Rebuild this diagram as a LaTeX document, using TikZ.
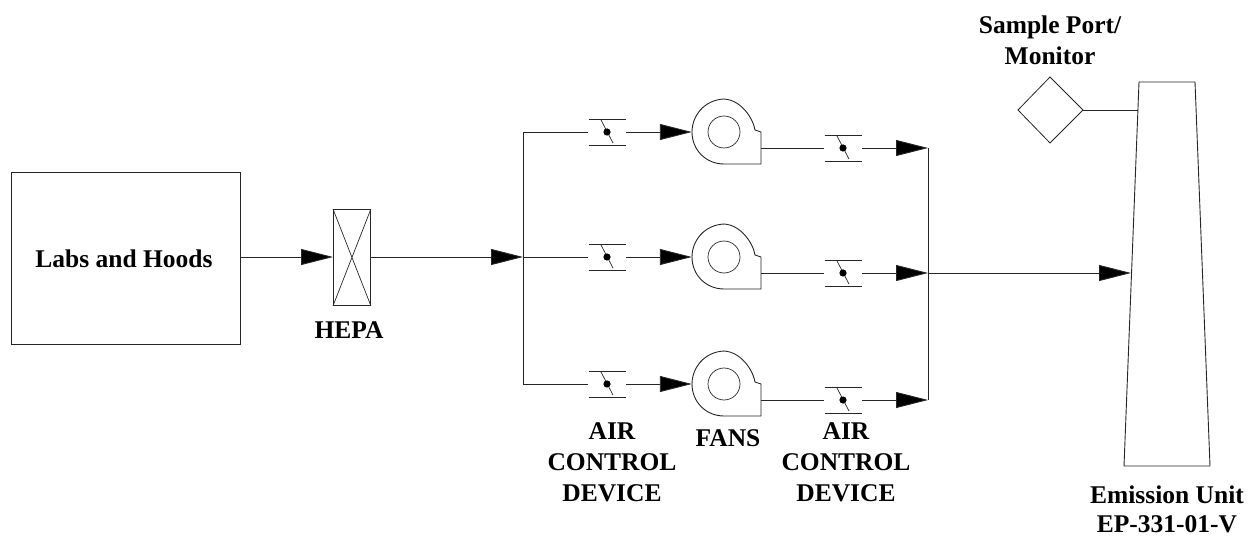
\documentclass[tikz,border=0pt]{standalone}
\usepackage{fontspec}
\setmainfont{Liberation Serif}
\usetikzlibrary{arrows.meta}
\tikzset{
  x=1pt,y=-1pt,
  line/.style={draw=black!85,line width=.9pt},
  flow/.style={line,-{Triangle[length=32pt,width=16pt,fill=black]}},
  lbl/.style={font=\bfseries\fontsize{25.5}{31}\selectfont,align=center,text=black,inner sep=0pt},
  pt/.style={inner sep=0pt,minimum size=0pt},
}
\newcommand{\damper}[3]{% x y name
  \node[pt] (#3w) at (#1-19,#2) {};
  \node[pt] (#3e) at (#1+19,#2) {};
  \draw[line] (#1-18.5,#2-13) -- (#1+18.5,#2-13);
  \draw[line] (#1-18.5,#2+13) -- (#1+18.5,#2+13);
  \draw[line,line width=.7pt] (#1-6,#2-12) -- (#1+6,#2+11);
  \fill[black] (#1,#2) circle (3.6);
}
\newcommand{\fan}[3]{% cx cy name
  \draw[line] (#1+31,#2-2) .. controls (#1+29,#2-14) and (#1+17,#2-32) .. (#1,#2-33)
     .. controls (#1-20,#2-32) and (#1-32,#2-16) .. (#1-32,#2)
     .. controls (#1-32,#2+18) and (#1-18,#2+32) .. (#1,#2+32)
     -- (#1+37,#2+32) -- (#1+37,#2) -- cycle;
  \draw[line,line width=.7pt] (#1,#2) circle (16);
  \node[pt] (#3in) at (#1-32,#2) {};
  \node[pt] (#3out) at (#1+37,#2+16) {};
}
\begin{document}
\begin{tikzpicture}
\useasboundingbox (0,0) rectangle (1248,537);
\node[line,draw,minimum width=229pt,minimum height=172pt,inner sep=0pt,anchor=north west] (labs) at (11,172) {};
\node[lbl] (labstext) at (124,258.5) {Labs and Hoods};
\node[line,draw,minimum width=37pt,minimum height=96pt,inner sep=0pt,anchor=north west] (hepa) at (333,209) {};
\draw[line,line width=.7pt] (hepa.north west) -- (hepa.south east) (hepa.north east) -- (hepa.south west);
\node[lbl] (hepatext) at (349,330) {HEPA};
\draw[flow] (labs.east |- 0,257) coordinate (l1) -- (hepa.west |- 0,257);
\coordinate (jw) at (523,257);
\draw[flow] (hepa.east |- 0,257) -- (jw);
\coordinate (jt) at (523,132);
\coordinate (jb) at (523,384);
\draw[line] (jt) -- (jb);
\damper{607}{132}{a}
\damper{607}{257}{b}
\damper{607}{384}{c}
\fan{724}{132}{fa}
\fan{724}{257}{fb}
\fan{724}{384}{fc}
\damper{843}{148}{d}
\damper{843}{273}{e}
\damper{843}{400}{f}
\draw[line] (jt) -- (aw);
\draw[line] (jw) -- (bw);
\draw[line] (jb) -- (cw);
\draw[flow] (ae) -- (fain);
\draw[flow] (be) -- (fbin);
\draw[flow] (ce) -- (fcin);
\draw[line] (faout) -- (dw);
\draw[line] (fbout) -- (ew);
\draw[line] (fcout) -- (fw);
\coordinate (bt) at (928,148);
\coordinate (bm) at (928,273);
\coordinate (bb) at (928,400);
\draw[flow] (de) -- (bt);
\draw[flow] (ee) -- (bm);
\draw[flow] (fe) -- (bb);
\draw[line] (bt) -- (bb);
\coordinate (sw) at (1131,273);
\draw[line] (1139,82) -- (1195,82) -- (1210,466) -- (1124,466) -- cycle;
\draw[flow] (bm) -- (sw);
\draw[line,line width=.8pt] (1050,77) -- (1083,110) -- (1050,143) -- (1018,110) -- cycle;
\coordinate (de2) at (1083,110);
\coordinate (st) at (1137.9,110);
\draw[line] (de2) -- (st);
\node[lbl] (samp) at (1050,40.5) {Sample Port/\\Monitor};
\node[lbl] (acd1) at (612,462) {AIR\\CONTROL\\DEVICE};
\node[lbl] (fans) at (728,438) {FANS};
\node[lbl] (acd2) at (846,462) {AIR\\CONTROL\\DEVICE};
\node[lbl,font=\bfseries\fontsize{25.5}{28.5}\selectfont] (emis) at (1167,509.5) {Emission Unit\\EP-331-01-V};
\end{tikzpicture}
\end{document}
